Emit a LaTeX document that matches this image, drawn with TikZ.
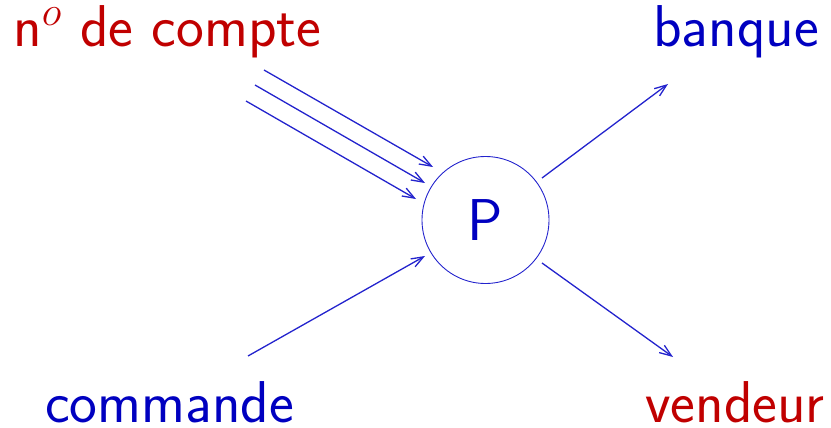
\documentclass[tikz,border=0pt]{standalone}
\usepackage{fix-cm}
\usepackage{fontspec}
\usetikzlibrary{arrows.meta}
\definecolor{txtred}{RGB}{192,0,0}
\definecolor{txtblue}{RGB}{0,0,192}
\definecolor{linblue}{RGB}{35,35,205}
\tikzset{
  lbl/.style={inner sep=0pt, font=\sffamily\fontsize{59}{66}\selectfont},
  flow/.style={draw=linblue, line width=1.3pt, -{Straight Barb[length=12pt,width=9pt]}},
}
\begin{document}
\begin{tikzpicture}[x=1pt,y=-1pt]
\useasboundingbox (0,0) rectangle (831,428);
\node[lbl, txtred, anchor=base west] (compte) at (13,47) {n$^{o}$ de compte};
\node[lbl, txtblue, anchor=base east] (banque) at (819,47) {banque};
\node[lbl, txtblue, anchor=base west] (commande) at (45,422) {commande};
\node[lbl, txtred, anchor=base east] (vendeur) at (825,422) {vendeur};
\node[lbl, txtblue, draw=linblue, line width=0.9pt, circle, minimum size=127pt] (P) at (485.5,220) {P};
\coordinate (a1s) at (264,70);  \coordinate (a1e) at (433,167);
\coordinate (a2s) at (255,85);  \coordinate (a2e) at (425,183);
\coordinate (a3s) at (246,101); \coordinate (a3e) at (416,199);
\coordinate (cs) at (248,356);  \coordinate (ce) at (425,256);
\coordinate (bs) at (542,178);  \coordinate (be) at (668,84);
\coordinate (vs) at (542,263);  \coordinate (ve) at (673,357);
\draw[flow] (a1s) -- (a1e);
\draw[flow] (a2s) -- (a2e);
\draw[flow] (a3s) -- (a3e);
\draw[flow] (cs) -- (ce);
\draw[flow] (bs) -- (be);
\draw[flow] (vs) -- (ve);
\end{tikzpicture}
\end{document}
